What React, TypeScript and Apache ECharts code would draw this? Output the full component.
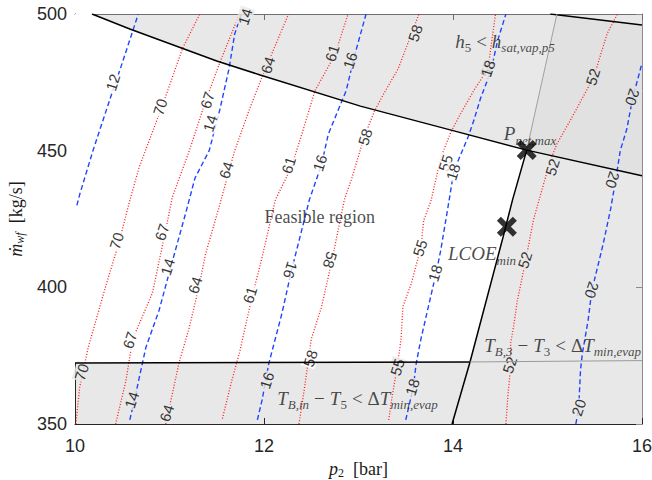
import { useEffect, useRef } from 'react';
import * as echarts from 'echarts';

// ---------- axes ----------
const X_MIN = 10, X_MAX = 16, X_STEP = 2;
const Y_MIN = 350, Y_MAX = 500, Y_STEP = 50;

// ---------- constraint boundaries (p2 [bar], mdot [kg/s]) ----------
const topCurve = [[10.18, 500], [10.58, 494.5], [11.5, 482.8], [11.96, 477.7], [13.02, 466.3], [13.97, 457.6], [14.78, 450.2], [16, 440.8]];
const sideCurve = [[14.78, 450.2], [14.63, 432], [14.53, 418.4], [14.18, 372.7], [13.99, 350]];
const bottomBlack = [[10, 372.3], [14.18, 372.7]];
const bottomGray = [[14.18, 372.7], [16, 373.2]];
const topRightLine = [[15.03, 500], [16, 496]];
const thinGrayLine = [[15.1, 500], [14.78, 450.2]];

const feasibleRegion = [[10, 500], ...topCurve.slice(0, 7), [14.63, 432], [14.53, 418.4], [14.18, 372.7], [10, 372.3]];
const darkRegion = [[15.1, 499.7], [14.78, 450.2], [16, 440.8], [16, 496]];

const P_NET_MAX = [14.78, 450.2];
const LCOE_MIN = [14.57, 422.2];

// ---------- red dotted contours ----------
const red70 = [[10.01, 350], [10.03, 357], [10.05, 363.5], [10.14, 378], [10.33, 401], [10.47, 417], [10.58, 431.8], [10.68, 444], [10.93, 467], [11.14, 487.6], [11.32, 500]];
const red67 = [[10.43, 350], [10.54, 366], [10.61, 381], [10.82, 398], [10.96, 421], [11.03, 433], [11.21, 450], [11.38, 468], [11.53, 482], [11.74, 500]];
const red64 = [[10.96, 350], [11.03, 361], [11.1, 372.3], [11.21, 385.4], [11.31, 400], [11.38, 412], [11.53, 430], [11.63, 442.7], [11.69, 450], [11.84, 464.6], [11.98, 477], [12.26, 500]];
const red61 = [[11.56, 352], [11.66, 366], [11.74, 376], [11.87, 396], [11.98, 411], [12.12, 432], [12.29, 444], [12.4, 456], [12.54, 472], [12.75, 485], [12.89, 500]];
const red58 = [[12.37, 350], [12.43, 363.5], [12.5, 381], [12.61, 393], [12.72, 410], [12.85, 432], [12.93, 440], [13.06, 455], [13.17, 464.6], [13.27, 471], [13.42, 480], [13.64, 500]];
const red55 = [[13.32, 351.5], [13.35, 358.8], [13.41, 371], [13.45, 381], [13.47, 393], [13.56, 401.5], [13.66, 414.6], [13.69, 424.5], [13.77, 432], [13.87, 447.4], [13.98, 457], [14.08, 463.5], [14.22, 472], [14.37, 480], [14.45, 500]];
const red52 = [[14.56, 350], [14.58, 360], [14.61, 371], [14.61, 379.6], [14.64, 385.4], [14.68, 395], [14.77, 410], [14.85, 424.5], [14.93, 434.3], [15.03, 446.4], [15.1, 452.5], [15.24, 461], [15.35, 468], [15.49, 477], [15.63, 492.7], [15.74, 500]];

// ---------- blue dashed contours ----------
const blue12 = [[10.02, 430], [10.05, 434], [10.19, 450], [10.4, 472], [10.48, 480], [10.67, 500]];
const blue14 = [[10.58, 351.5], [10.63, 358.8], [10.68, 367], [10.75, 378], [10.89, 391.6], [11.01, 407], [11.17, 427], [11.27, 440], [11.42, 450], [11.53, 464.6], [11.63, 480], [11.69, 492.7], [11.76, 500]];
const blue16 = [[11.93, 351.5], [11.98, 358.8], [12.05, 372], [12.19, 390.5], [12.29, 406], [12.48, 432], [12.61, 445], [12.68, 456], [12.87, 472], [12.96, 485], [13.08, 500]];
const blue18 = [[13.5, 351.5], [13.58, 363.5], [13.61, 372], [13.66, 381], [13.74, 393], [13.82, 405], [13.87, 413.5], [13.95, 430], [14.01, 442.7], [14.16, 455], [14.22, 461], [14.29, 469], [14.4, 479], [14.47, 490], [14.56, 500]];
const blue20 = [[15.3, 350], [15.33, 356], [15.35, 370], [15.37, 376], [15.43, 388], [15.47, 399], [15.52, 406], [15.59, 416], [15.67, 429], [15.72, 439], [15.77, 450], [15.84, 458], [15.9, 469], [16, 482]];

const redContours = [red70, red67, red64, red61, red58, red55, red52];
const blueContours = [blue12, blue14, blue16, blue18, blue20];

// contour labels: [p2, mdot, text, reading direction (1 up, -1 down)]
const redLabels = [
  [10.9, 466, '70', 1], [10.44, 417, '70', 1], [10.07, 369, '70', 1],
  [11.4, 468.5, '67', 1], [10.92, 420.2, '67', 1], [10.58, 380.7, '67', 1],
  [12.04, 481.3, '64', 1], [11.6, 442.9, '64', 1], [11.27, 400.8, '64', 1], [10.97, 354, '64', 1],
  [12.72, 485.7, '61', 1], [12.26, 444.7, '61', 1], [11.85, 397.2, '61', 1],
  [13.6, 493, '58', 1], [13.07, 455, '58', 1], [12.7, 410, '58', -1], [12.49, 374, '58', 1],
  [14.36, 480, '55', 1], [13.92, 445.5, '55', 1], [13.65, 414.4, '55', 1], [13.41, 370.8, '55', 1],
  [15.48, 477, '52', 1], [15.05, 444, '52', 1], [14.76, 410, '52', 1], [14.6, 371.6, '52', 1],
];
const blueLabels = [
  [10.4, 475, '12', 1],
  [11.8, 499, '14', 1], [11.43, 460, '14', 1], [10.98, 407.5, '14', 1], [10.6, 358.8, '14', 1],
  [12.91, 483, '16', 1], [12.59, 445.5, '16', 1], [12.28, 406.3, '16', -1], [12.03, 366, '16', 1],
  [14.37, 480, '18', 1], [14.0, 442.2, '18', 1], [13.81, 405.2, '18', 1], [13.57, 363.5, '18', 1],
  [15.9, 469.6, '20', -1], [15.69, 439.3, '20', -1], [15.47, 399, '20', -1], [15.33, 356, '20', 1],
];

// annotations: [p2, mdot, key]
const annotations = [
  [12.59, 425.7, 'feasible'],
  [14.55, 490.1, 'h5'],
  [14.815, 456.1, 'pnet'],
  [14.307, 412.2, 'lcoe'],
  [15.16, 378.9, 'tb3'],
  [12.989, 359.5, 'tbin'],
];

const SERIF = '"Liberation Serif", "DejaVu Serif", serif';
const SANS = '"Liberation Sans", Arial, sans-serif';

const annotationText: Record<string, string> = {
  feasible: '{r|Feasible region}',
  h5: '{i|h}{s|5}{op|<}{i|h}{si|sat,vap,p5}',
  pnet: '{i|P}{si|net,max}',
  lcoe: '{i|LCOE}{si|min}',
  tb3: '{i|T}{si|B,3}{op|−}{i|T}{s|3}{op|<}{r|Δ}{i|T}{si|min,evap}',
  tbin: '{i|T}{si|B,in}{op|−}{i|T}{s|5}{op|<}{r|Δ}{i|T}{si|min,evap}',
};

const INK = '#1a1a1a';
const richMath = {
  r: { fontFamily: SERIF, fontSize: 19, color: INK, lineHeight: 26 },
  op: { fontFamily: SERIF, fontSize: 19, color: INK, lineHeight: 26, padding: [0, 5, 0, 5] },
  i: { fontFamily: SERIF, fontSize: 19, fontStyle: 'italic', color: INK, lineHeight: 26 },
  s: { fontFamily: SERIF, fontSize: 13, color: INK, lineHeight: 16, verticalAlign: 'bottom' },
  si: { fontFamily: SERIF, fontSize: 13, fontStyle: 'italic', color: INK, lineHeight: 16, verticalAlign: 'bottom' },
};
const richAxis = {
  r: { fontFamily: SERIF, fontSize: 18, color: INK, lineHeight: 20 },
  i: { fontFamily: SERIF, fontSize: 18, fontStyle: 'italic', color: INK, lineHeight: 20 },
  s: { fontFamily: SERIF, fontSize: 12, color: INK, lineHeight: 10, verticalAlign: 'bottom' },
  si: { fontFamily: SERIF, fontSize: 12, fontStyle: 'italic', color: INK, lineHeight: 10, verticalAlign: 'bottom' },
};
const richFeasible = { r: { fontFamily: SERIF, fontSize: 18, color: INK, lineHeight: 26 } };

const X_SHAPE = 'path://M4,0 L10,6 L16,0 L20,4 L14,10 L20,16 L16,20 L10,14 L4,20 L0,16 L6,10 L0,4 Z';

const GRAY = '#e8e8e8';
const DARK = '#e1e1e1';

function inside(pt: number[], poly: number[][]) {
  let c = false;
  for (let i = 0, j = poly.length - 1; i < poly.length; j = i++) {
    const [xi, yi] = poly[i];
    const [xj, yj] = poly[j];
    if ((yi > pt[1]) !== (yj > pt[1]) && pt[0] < ((xj - xi) * (pt[1] - yi)) / (yj - yi) + xi) c = !c;
  }
  return c;
}

function polygonSeries(verts: number[][], color: string, z: number) {
  return {
    type: 'custom',
    coordinateSystem: 'cartesian2d',
    silent: true,
    z,
    clip: true,
    data: [verts[0]],
    renderItem: (_p: any, api: any) => ({
      type: 'polygon',
      shape: { points: verts.map((v) => api.coord(v)) },
      style: { fill: color },
    }),
  };
}

function lineSeries(pts: number[][], color: string, width: number, type: any, z: number) {
  return {
    type: 'line',
    data: pts,
    showSymbol: false,
    symbol: 'none',
    silent: true,
    z,
    lineStyle: { color, width, type },
  };
}

export default function App() {
  const ref = useRef<HTMLDivElement>(null);

  useEffect(() => {
    document.body.style.margin = '0';
    if (!ref.current) return;
    const chart = echarts.init(ref.current, null, { renderer: 'svg' });

    const contourLabelData = (arr: any[]) =>
      arr.map((l) => {
        const pt = [l[0], l[1]];
        const bg = inside(pt, feasibleRegion) ? '#ffffff' : inside(pt, darkRegion) ? DARK : GRAY;
        return {
          value: pt,
          label: { formatter: l[2], rotate: l[3] > 0 ? 72 : -108, backgroundColor: bg },
        };
      });

    const option: any = {
      animation: false,
      backgroundColor: '#ffffff',
      grid: {
        left: 75, right: 10, top: 14, bottom: 56,
        show: true, backgroundColor: GRAY, borderWidth: 0,
        outerBoundsMode: 'none', containLabel: false,
      },
      xAxis: [
        {
          type: 'value', min: X_MIN, max: X_MAX, interval: X_STEP, position: 'bottom',
          axisLine: { show: true, lineStyle: { color: '#262626', width: 1 } },
          axisTick: { show: true, inside: true, length: 6, lineStyle: { color: '#262626' } },
          axisLabel: { fontSize: 18, color: '#262626', fontFamily: SANS, margin: 13 },
          splitLine: { show: false },
          name: '{i|p}{s|2}{r|  [bar]}',
          nameLocation: 'middle', nameGap: 34,
          nameTextStyle: { rich: richAxis },
        },
        {
          type: 'value', min: X_MIN, max: X_MAX, interval: X_STEP, position: 'top',
          axisLine: { show: true, lineStyle: { color: '#6e6e6e', width: 1 } },
          axisTick: { show: true, inside: true, length: 6, lineStyle: { color: '#6e6e6e' } },
          axisLabel: { show: false }, splitLine: { show: false },
        },
      ],
      yAxis: [
        {
          type: 'value', min: Y_MIN, max: Y_MAX, interval: Y_STEP, position: 'left',
          axisLine: { show: true, lineStyle: { color: '#262626', width: 1 } },
          axisTick: { show: true, inside: true, length: 6, lineStyle: { color: '#262626' } },
          axisLabel: { fontSize: 18, color: '#262626', fontFamily: SANS, margin: 8 },
          splitLine: { show: false },
          name: '{i|ṁ}{si|wf}{r|  [kg/s]}',
          nameLocation: 'middle', nameGap: 44, nameRotate: 90,
          nameTextStyle: { rich: richAxis },
        },
        {
          type: 'value', min: Y_MIN, max: Y_MAX, interval: Y_STEP, position: 'right',
          axisLine: { show: true, lineStyle: { color: '#8c8c8c', width: 1 } },
          axisTick: { show: true, inside: true, length: 6, lineStyle: { color: '#8c8c8c' } },
          axisLabel: { show: false }, splitLine: { show: false },
        },
      ],
      series: [
        polygonSeries(feasibleRegion, '#ffffff', 1),
        polygonSeries(darkRegion, DARK, 1),
        ...redContours.map((c) => lineSeries(c, '#ff1a1a', 1.3, [1, 1.8], 3)),
        ...blueContours.map((c) => lineSeries(c, '#1f45ff', 1.4, [5, 3], 3)),
        {
          type: 'scatter', silent: true, z: 5, symbolSize: 0,
          data: contourLabelData([...redLabels, ...blueLabels]),
          label: { show: true, position: 'inside', fontFamily: SANS, fontSize: 15, color: '#000000', padding: [0, 1] },
        },
        lineSeries(topCurve, '#000000', 1.5, 'solid', 6),
        lineSeries(sideCurve, '#000000', 1.5, 'solid', 6),
        lineSeries(bottomBlack, '#000000', 1.5, 'solid', 6),
        lineSeries(bottomGray, '#9a9a9a', 1, 'solid', 6),
        lineSeries(topRightLine, '#000000', 1.5, 'solid', 6),
        lineSeries(thinGrayLine, '#a0a0a0', 1, 'solid', 6),
        {
          type: 'scatter', silent: true, z: 7, symbolSize: 0,
          data: annotations.map((a) => ({
            value: [a[0], a[1]],
            label: { formatter: annotationText[a[2] as string], rich: a[2] === 'feasible' ? richFeasible : richMath },
          })),
          label: { show: true, position: 'inside' },
        },
        {
          type: 'scatter', silent: true, z: 8, symbol: X_SHAPE, symbolSize: 20,
          itemStyle: { color: '#000000' },
          data: [P_NET_MAX, LCOE_MIN],
        },
      ],
    };

    chart.setOption(option);
    return () => chart.dispose();
  }, []);

  return <div ref={ref} style={{ width: 652, height: 480 }} />;
}
